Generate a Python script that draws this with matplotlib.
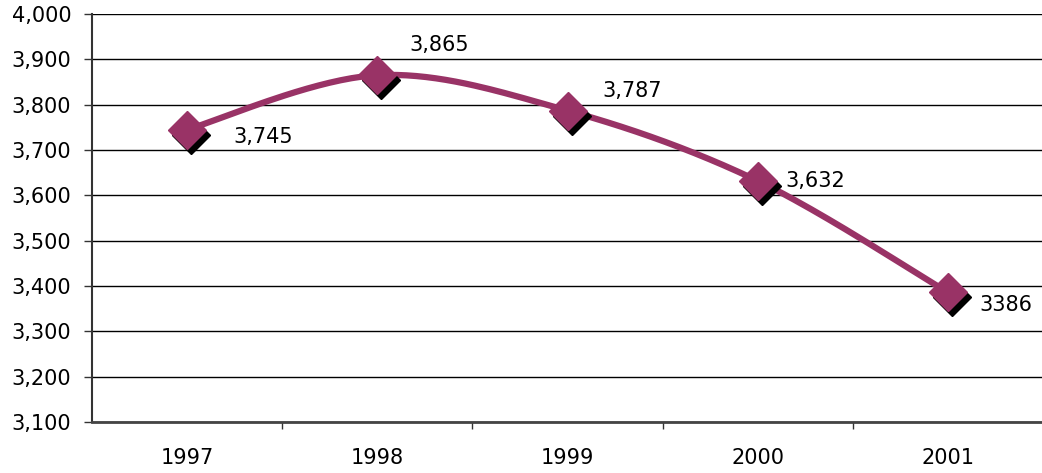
import matplotlib

matplotlib.use("Agg")
import matplotlib.pyplot as plt
import matplotlib.transforms as mtransforms
import numpy as np

years = ["1997", "1998", "1999", "2000", "2001"]
values = [3745, 3865, 3787, 3632, 3386]
labels = ["3,745", "3,865", "3,787", "3,632", "3386"]
# label offsets (points) relative to each marker
label_offsets = [(33, -5), (23, 22), (25, 14), (20, 0), (23, -9)]

PLUM = "#993366"


def smooth(x, y, n=40):
    # Bezier smoothing through the points (Catmull-Rom style, like Excel's smoothed line)
    x = np.asarray(x, float); y = np.asarray(y, float)
    px = np.concatenate([[x[0]], x, [x[-1]]])
    py = np.concatenate([[y[0]], y, [y[-1]]])
    xs, ys = [], []
    t = np.linspace(0, 1, n)
    for i in range(1, len(px) - 2):
        p0 = np.array([px[i], py[i]]); p3 = np.array([px[i + 1], py[i + 1]])
        c1 = p0 + (np.array([px[i + 1], py[i + 1]]) - np.array([px[i - 1], py[i - 1]])) / 6
        c2 = p3 - (np.array([px[i + 2], py[i + 2]]) - np.array([px[i], py[i]])) / 6
        b = ((1 - t) ** 3)[:, None] * p0 + (3 * (1 - t) ** 2 * t)[:, None] * c1 \
            + (3 * (1 - t) * t ** 2)[:, None] * c2 + (t ** 3)[:, None] * p3
        xs.append(b[:, 0]); ys.append(b[:, 1])
    return np.concatenate(xs), np.concatenate(ys)


fig = plt.figure(figsize=(10.42, 4.73), dpi=100)
ax = fig.add_axes([92 / 1042, 1 - 422 / 473, 951 / 1042, 408 / 473])

x = np.arange(len(years))
sx, sy = smooth(x, values)
ax.plot(sx, sy, color=PLUM, lw=4.5, solid_capstyle="round", zorder=3)

shadow = ax.transData + mtransforms.ScaledTranslation(4 / 100, -5 / 100, fig.dpi_scale_trans)
ax.plot(x, values, ls="none", marker="D", ms=19.5, color="black", mec="black",
        transform=shadow, zorder=4)
ax.plot(x, values, ls="none", marker="D", ms=19.5, color=PLUM, mec=PLUM, zorder=5)

for xi, v, lab, off in zip(x, values, labels, label_offsets):
    ax.annotate(lab, (xi, v), xytext=off, textcoords="offset points",
                ha="left", va="center", fontsize=15, color="black", zorder=6)

ax.set_xlim(-0.5, 4.5)
ax.set_ylim(3100, 4000)
ax.set_yticks(np.arange(3100, 4001, 100))
ax.set_yticklabels([f"{v:,}" for v in range(3100, 4001, 100)], fontsize=15, color="black")
ax.set_xticks(x)
ax.set_xticklabels(years, fontsize=15, color="black")
ax.set_xticks(np.arange(0.5, 4, 1), minor=True)
ax.tick_params(axis="x", which="major", length=0, pad=19)
ax.tick_params(axis="x", which="minor", length=5, width=1, color="#333333", direction="out")
ax.tick_params(axis="y", length=6, width=1, color="#333333", pad=9)

ax.grid(axis="y", color="black", lw=1)
ax.set_axisbelow(True)
for s in ["top", "right"]:
    ax.spines[s].set_visible(False)
ax.spines["left"].set_color("#333333")
ax.spines["left"].set_linewidth(1.5)
ax.spines["bottom"].set_color("#444444")
ax.spines["bottom"].set_linewidth(2)

fig.savefig("out.png", dpi=100)
